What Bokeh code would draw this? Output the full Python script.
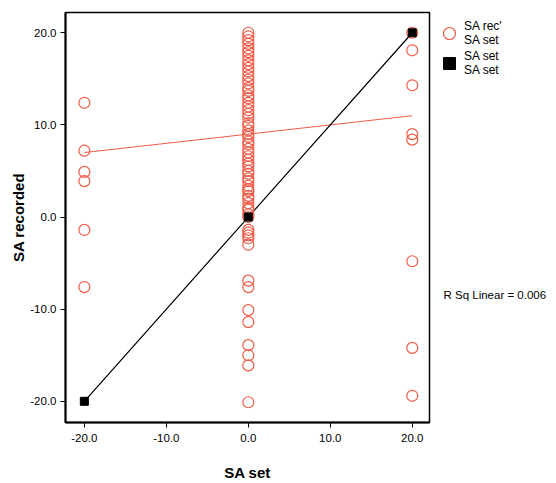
from bokeh.plotting import figure
from bokeh.layouts import row
from bokeh.models import Range1d, FixedTicker, Legend, LegendItem, Label, NumeralTickFormatter
from bokeh.embed import file_html
from bokeh.resources import INLINE

# data: SA set (x) vs SA recorded (y)
x_neg = [-20.0] * 6
y_neg = [12.4, 7.2, 4.9, 3.9, -1.4, -7.6]
y_zero = [20.0, 19.6, 19.2, 18.8, 18.3, 17.9, 17.5, 17.0, 16.6, 16.2, 15.8, 15.3, 14.9,
          14.5, 14.0, 13.7, 13.2, 12.9, 12.4, 12.0, 11.6, 11.2, 10.8, 10.2, 9.9, 9.4,
          9.0, 8.7, 8.2, 7.9, 7.4, 7.0, 6.6, 6.2, 5.8, 5.5, 5.0, 4.7, 4.2, 3.9, 3.4,
          3.0, 2.8, 2.3, 2.0, 1.5, 1.0, 0.8, 0.3, 0.0, -1.4, -1.7, -2.0, -2.3, -3.0,
          -6.9, -7.6, -10.1, -11.4, -13.9, -15.0, -16.1, -20.1]
x_zero = [0.0] * len(y_zero)
y_pos = [20.0, 18.1, 14.3, 9.0, 8.4, -4.8, -14.2, -19.4]
x_pos = [20.0] * len(y_pos)

rec_x = x_neg + x_zero + x_pos
rec_y = y_neg + y_zero + y_pos

set_x = [-20.0, 0.0, 20.0]
set_y = [-20.0, 0.0, 20.0]

fit_x = [-20.0, 20.0]
fit_y = [7.0, 11.0]

ticks = [-20.0, -10.0, 0.0, 10.0, 20.0]
legend_labels = ["SA rec'\nSA set", "SA set\nSA set"]
r_sq_text = "R Sq Linear = 0.006"

RED = "#F05A46"
FONT = "Liberation Sans"
NAN = float("nan")

p = figure(width=431, height=483, output_backend="svg", toolbar_location=None,
           x_range=Range1d(-22.3, 22.1), y_range=Range1d(-22.3, 22.2),
           min_border_left=65, min_border_right=2, min_border_top=12, min_border_bottom=60)
p.grid.visible = False
p.outline_line_color = "black"
p.outline_line_width = 1.5
p.background_fill_color = "white"
p.border_fill_color = "white"

for ax in (p.xaxis[0], p.yaxis[0]):
    ax.ticker = FixedTicker(ticks=ticks)
    ax.formatter = NumeralTickFormatter(format="0.0")
    ax.axis_line_width = 2
    ax.axis_line_color = "black"
    ax.major_tick_in = 0
    ax.major_tick_out = 5
    ax.major_tick_line_width = 1
    ax.minor_tick_line_color = None
    ax.major_label_text_font = FONT
    ax.major_label_text_font_size = "11.5px"
    ax.major_label_text_color = "black"
    ax.axis_label_text_font = FONT
    ax.axis_label_text_font_size = "15px"
    ax.axis_label_text_font_style = "bold"
    ax.axis_label_text_color = "black"

p.xaxis.axis_label = "SA set"
p.yaxis.axis_label = "SA recorded"
p.xaxis.major_label_standoff = 6
p.xaxis.axis_label_standoff = 19
p.yaxis.major_label_standoff = 4
p.yaxis.axis_label_standoff = 0

p.line(fit_x, fit_y, line_color=RED, line_width=1)
p.line(set_x, set_y, line_color="black", line_width=1.2)
p.scatter(rec_x, rec_y, marker="circle", size=11, fill_color=None, line_color=RED, line_width=1.2)
p.scatter(set_x, set_y, marker="square", size=8, fill_color="black", line_color="black")

# side panel holding the legend and the R-squared note (its frame is aligned with p's: y 12..423)
q = figure(width=125, height=483, output_backend="svg", toolbar_location=None,
           x_range=Range1d(0, 125), y_range=Range1d(60, 471), min_border=0,
           x_axis_location=None, y_axis_location=None)
q.grid.visible = False
q.outline_line_color = None
q.background_fill_color = "white"
q.border_fill_color = "white"

g1 = q.scatter([NAN], [NAN], marker="circle", fill_color=None, line_color=RED, line_width=1.2)
g2 = q.scatter([NAN], [NAN], marker="square", fill_color="black", line_color="black")

legend = Legend(items=[LegendItem(label=legend_labels[0], renderers=[g1], index=0),
                       LegendItem(label=legend_labels[1], renderers=[g2], index=0)],
                location=(3, 344), border_line_color=None, background_fill_alpha=0,
                label_text_font=FONT, label_text_font_size="12px", label_text_line_height=1.15,
                label_text_color="black",
                glyph_width=30, glyph_height=30, spacing=0, padding=0, margin=0,
                label_standoff=0)
q.add_layout(legend, "center")

q.add_layout(Label(x=12, y=188, text=r_sq_text, text_font=FONT, text_font_size="11.5px",
                   text_baseline="middle", text_color="black"))

open("out.html", "w").write(file_html(row(p, q), INLINE))
